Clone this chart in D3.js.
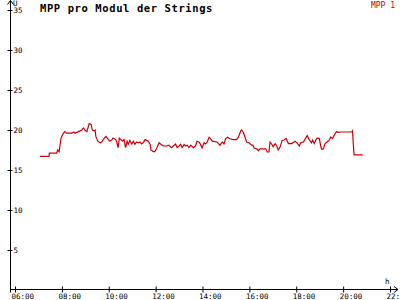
<!DOCTYPE html>
<html>
<head>
<meta charset="utf-8">
<script src="https://cdn.jsdelivr.net/npm/d3@7"></script>
<style>
  body { margin: 0; background: #fff; }
  svg { display: block; }
  text { font-family: "DejaVu Sans Mono", monospace; }
</style>
</head>
<body>
<div id="chart"></div>
<script>
// Werte
const times = ['07:04','07:27','07:28','07:47','07:49','07:53','07:55','07:58','08:04','08:08','08:12','08:25','08:30','08:34','08:42','08:51','08:55','08:59','09:04','09:10','09:15','09:18','09:23','09:25','09:27','09:32','09:38','09:42','09:49','09:53','09:59','10:03','10:08','10:11','10:18','10:21','10:24','10:27','10:31','10:35','10:39','10:43','10:47','10:50','10:54','10:59','11:03','11:07','11:11','11:16','11:20','11:24','11:28','11:33','11:37','11:41','11:46','11:48','11:54','11:58','12:03','12:09','12:14','12:20','12:28','12:34','12:41','12:45','12:51','12:55','13:00','13:04','13:08','13:13','13:17','13:21','13:25','13:30','13:36','13:42','13:46','13:51','13:55','13:59','14:04','14:08','14:12','14:17','14:21','14:25','14:37','14:39','14:45','14:51','14:55','14:59','15:04','15:10','15:19','15:27','15:32','15:38','15:40','15:44','15:49','15:53','15:59','16:06','16:09','16:12','16:19','16:23','16:27','16:35','16:42','16:46','16:50','16:53','16:59','17:01','17:06','17:10','17:14','17:18','17:24','17:29','17:34','17:40','17:48','17:57','18:02','18:08','18:11','18:18','18:22','18:28','18:33','18:39','18:42','18:46','18:52','18:59','19:03','19:05','19:09','19:14','19:19','19:24','19:28','19:33','19:39','19:43','19:47','19:56','20:22','20:24','20:26','20:28','20:50'];
const mpp1 = [16.7,16.7,17.1,17.1,17.5,17.3,18.0,19.0,19.6,19.8,19.6,19.6,19.75,19.6,19.8,20.0,20.25,20.0,19.8,20.8,20.7,20.0,19.9,20.0,19.2,18.6,18.4,18.5,19.0,19.2,18.8,18.6,18.8,19.0,18.8,18.4,17.8,19.0,18.8,18.6,18.8,17.8,18.6,18.2,18.7,18.25,18.6,18.2,18.5,18.4,18.5,18.25,18.4,18.8,18.7,18.6,18.2,17.5,17.3,17.3,17.75,18.4,18.2,18.0,18.0,18.1,17.8,18.0,18.25,17.8,18.0,18.2,17.8,18.2,18.0,18.1,17.8,18.1,17.8,18.0,18.6,18.5,18.2,17.75,18.4,18.25,18.5,19.1,18.9,18.6,18.5,18.4,18.1,18.5,18.25,18.9,19.1,18.9,18.8,18.8,19.1,19.9,20.0,19.75,19.1,18.5,18.4,18.1,18.1,17.75,17.65,17.4,17.65,17.65,17.65,17.25,17.25,18.5,18.1,17.9,18.3,18.0,17.5,17.8,18.7,18.75,18.95,18.3,18.3,18.6,18.4,18.0,18.4,18.5,18.8,19.3,18.8,18.4,18.75,18.3,18.95,18.95,17.9,17.6,17.6,18.3,18.5,18.7,19.1,18.95,19.5,19.8,19.7,19.75,19.75,19.9,18.3,16.9,16.9];
const yTicks = [5, 10, 15, 20, 25, 30, 35];
const xTicks = ['06:00','08:00','10:00','12:00','14:00','16:00','18:00','20:00','22:00'];

const W = 400, H = 300;
const parse = d3.timeParse('%H:%M');
const data = times.map((t, i) => ({ t: parse(t), v: mpp1[i] }));

const svg = d3.select('#chart').append('svg')
  .attr('width', W).attr('height', H);

const x = d3.scaleTime()
  .domain([parse('06:00'), parse('22:00')])
  .range([15, 390]);
const y = d3.scaleLinear()
  .domain([0, 35])
  .range([290, 10]);

const axisX = 10.5, axisY = 289.5;

// Achsenlinien mit Pfeilen
svg.append('path')
  .attr('d', `M${axisX},${axisY + 3}V0.5M${axisX - 3},4.5L${axisX},0.5L${axisX + 3},4.5`)
  .attr('fill', 'none').attr('stroke', '#000');
svg.append('path')
  .attr('d', `M${axisX},${axisY}H398M394,${axisY - 3}L398,${axisY}L394,${axisY + 3}`)
  .attr('fill', 'none').attr('stroke', '#000');

// Y-Achse
const gy = svg.append('g')
  .attr('transform', `translate(${axisX},0)`)
  .call(d3.axisRight(y).tickValues(yTicks).tickSize(2).tickPadding(1).tickSizeOuter(0));
gy.select('.domain').remove();
gy.selectAll('.tick line').attr('x1', -3).attr('stroke', '#000');
gy.selectAll('.tick text')
  .attr('font-family', '"DejaVu Sans Mono", monospace')
  .attr('font-size', 7.5).attr('fill', '#000');

// X-Achse
const gx = svg.append('g')
  .attr('transform', `translate(0,${axisY})`)
  .call(d3.axisBottom(x).tickValues(xTicks.map(parse)).tickFormat(d3.timeFormat('%H:%M')).tickSize(3).tickSizeOuter(0));
gx.select('.domain').remove();
gx.selectAll('.tick line').attr('y1', -3).attr('stroke', '#000');
gx.selectAll('.tick text')
  .attr('font-family', '"DejaVu Sans Mono", monospace')
  .attr('font-size', 7.5).attr('fill', '#000')
  .attr('text-anchor', 'start').attr('x', -4).attr('y', 4).attr('dy', '0.71em');

// Achsenbeschriftungen
svg.append('text').attr('x', 13).attr('y', 6)
  .attr('font-size', 7.5).text('U');
svg.append('text').attr('x', 385).attr('y', 284)
  .attr('font-size', 7.5).text('h');

// Titel und Legende
svg.append('text').attr('x', 40).attr('y', 11.5)
  .attr('font-size', 10.5).attr('font-weight', 'bold')
  .attr('letter-spacing', 0.6)
  .text('MPP pro Modul der Strings');
svg.append('text').attr('x', 395).attr('y', 8)
  .attr('font-size', 8).attr('text-anchor', 'end')
  .attr('fill', '#c00000')
  .text('MPP 1');

// Kurve
const line = d3.line()
  .x(d => x(d.t))
  .y(d => y(d.v));
svg.append('path')
  .datum(data)
  .attr('d', line)
  .attr('fill', 'none')
  .attr('stroke', '#c8000a')
  .attr('stroke-width', 1.2);
</script>
</body>
</html>
